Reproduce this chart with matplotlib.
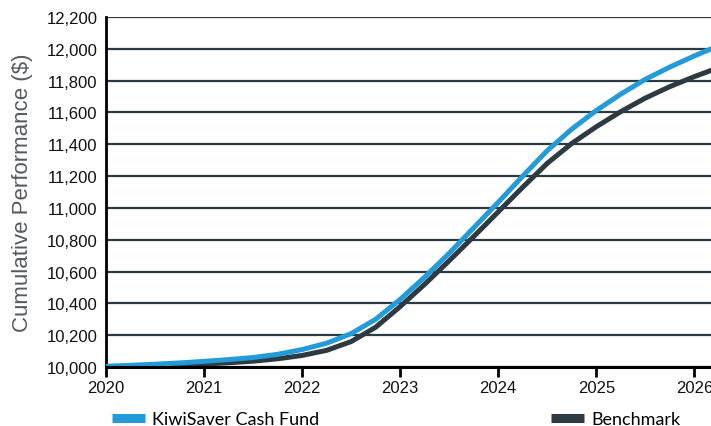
import numpy as np
import matplotlib.pyplot as plt
from matplotlib.ticker import FuncFormatter

plt.rcParams['font.family'] = ['Liberation Sans', 'DejaVu Sans']

# quarterly points, growth of $10,000
years = [2020.00, 2020.25, 2020.50, 2020.75, 2021.00, 2021.25, 2021.50, 2021.75,
         2022.00, 2022.25, 2022.50, 2022.75, 2023.00, 2023.25, 2023.50, 2023.75,
         2024.00, 2024.25, 2024.50, 2024.75, 2025.00, 2025.25, 2025.50, 2025.75,
         2026.00, 2026.25]
cash_fund = [10005, 10011, 10018, 10026, 10036, 10047, 10060, 10080,
             10110, 10150, 10210, 10300, 10425, 10565, 10715, 10875,
             11035, 11200, 11360, 11495, 11612, 11715, 11808, 11885,
             11955, 12020]
benchmark = [10000, 10003, 10007, 10012, 10019, 10027, 10037, 10052,
             10073, 10105, 10160, 10250, 10380, 10520, 10668, 10820,
             10975, 11130, 11280, 11405, 11510, 11605, 11690, 11762,
             11825, 11882]
series_names = ['KiwiSaver Cash Fund', 'Benchmark']
year_ticks = [2020, 2021, 2022, 2023, 2024, 2025, 2026]
value_ticks = np.arange(10000, 12201, 200)

blue = '#239bd8'
dark = '#2e3a41'

fig = plt.figure(figsize=(7.11, 4.27), dpi=100)
ax = fig.add_axes([0.149, 0.138, 0.851, 0.82])

l2, = ax.plot(years, benchmark, color=dark, lw=3.6, solid_capstyle='butt', zorder=3)
l1, = ax.plot(years, cash_fund, color=blue, lw=3.6, solid_capstyle='butt', zorder=4)

ax.set_xlim(2020, 2026.17)
ax.set_ylim(10000, 12200)
ax.set_xticks(year_ticks)
ax.set_yticks(value_ticks)
ax.yaxis.set_major_formatter(FuncFormatter(lambda v, p: f'{v:,.0f}'))

ax.grid(axis='y', color=dark, lw=1.6)
ax.set_axisbelow(True)
for s in ['top', 'right']:
    ax.spines[s].set_visible(False)
ax.spines['left'].set_linewidth(2)
ax.spines['bottom'].set_linewidth(2.2)
ax.spines['bottom'].set_zorder(5)
ax.tick_params(axis='y', length=0, pad=6, labelsize=12, labelcolor='#111111')
ax.tick_params(axis='x', length=7, width=2, pad=2, labelsize=12, labelcolor='#111111')

ax.set_ylabel('Cumulative Performance ($)', fontsize=16, color='#555a5e', labelpad=10)

fig.legend([l1, l2], series_names, loc='center left', bbox_to_anchor=(0.1575, 0.016),
           ncol=2, frameon=False, borderpad=0, borderaxespad=0,
           handlelength=1.83, handletextpad=0.39, columnspacing=12.85,
           prop={'family': ['Lato', 'DejaVu Sans'], 'size': 13})
for h in fig.legends[0].legend_handles:
    h.set_linewidth(6.5)

fig.savefig('out.png', dpi=100)
